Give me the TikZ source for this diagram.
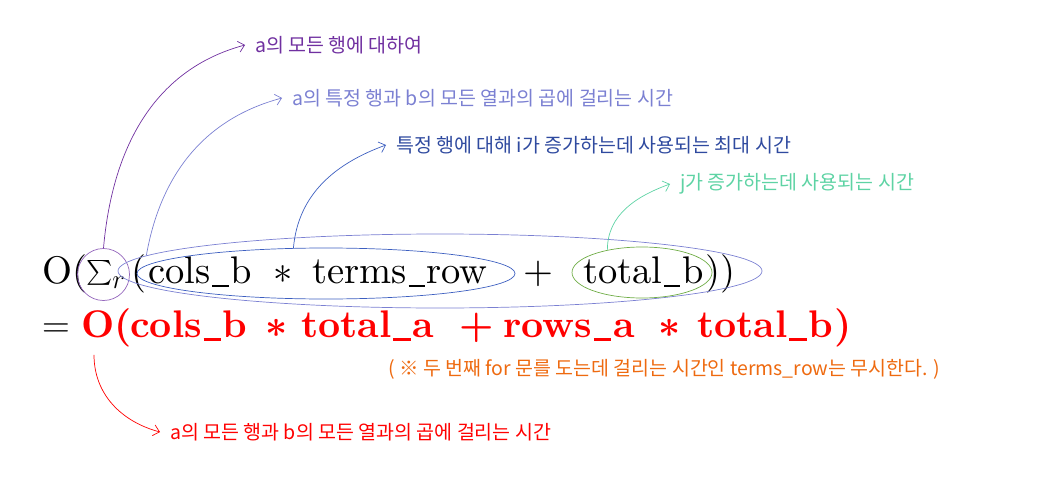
\RequirePackage{fix-cm}
\documentclass[tikz,border=0pt]{standalone}
\usepackage{amsmath}
\usepackage{fontspec}
\usepackage{tikz}
\usepackage{xcolor}
\usetikzlibrary{arrows.meta, shapes.geometric, positioning}
\newfontfamily\krfont{Noto Sans CJK KR}
\newfontfamily\eqfont{lmroman10-regular.otf}[BoldFont=lmroman10-bold.otf]
\newcommand{\usc}{\kern0.05em\rule[-0.1em]{0.42em}{0.045em}\kern0.05em}
\newcommand{\uscb}{\kern0.05em\rule[-0.1em]{0.45em}{0.07em}\kern0.05em}
\definecolor{Plum}{HTML}{7030A0}
\definecolor{RingPurple}{HTML}{9466BC}
\definecolor{Lavender}{HTML}{7B80D2}
\definecolor{RoyalBlue}{HTML}{3D5FC0}
\definecolor{NavyText}{HTML}{2F4A9F}
\definecolor{LeafGreen}{HTML}{70AD47}
\definecolor{Mint}{HTML}{5ED3A4}
\definecolor{Tangerine}{HTML}{EE6A10}
\definecolor{PureRed}{HTML}{FF0000}

\begin{document}
\begin{tikzpicture}[x=1pt, y=1pt,
    eq/.style={anchor=base west, inner sep=0pt, font=\eqfont\fontsize{38.5}{42}\selectfont},
    eqred/.style={eq, text=PureRed, font=\eqfont\fontsize{38.5}{42}\selectfont\bfseries\boldmath},
    ring/.style={draw, ellipse, inner sep=0pt, line width=0.7pt},
    note/.style={anchor=west, inner sep=0pt, inner xsep=10pt, font=\krfont\fontsize{19.5}{22}\selectfont},
    link/.style={-{Straight Barb[length=6pt,width=11pt]}, line width=0.7pt}]
    \useasboundingbox (0,0) rectangle (1048,-481);

    % first line
    \node[eq] (oA) at (42,-283) {O(};
    \node[eq] (sumr) at (86,-283) {$\sum_r$};
    \node[eq] (parB) at (131,-283) {(};
    \node[eq] (colsA) at (148,-283) {cols\usc b};
    \node[eq] (astA) at (273,-283) {$\ast$};
    \node[eq] (terms) at (312,-283) {terms\usc row};
    \node[eq] (plusA) at (523,-283) {+};
    \node[eq] (totbA) at (583,-283) {total\usc b};
    \node[eq] (parC) at ([xshift=1pt]totbA.base east) {))};

    % second line
    \node[eq] (eqsign) at (42,-337) {$=$};
    \node[eqred] (oB) at (81,-337) {O(};
    \node[eqred] (colsB) at (130,-337) {cols\uscb b};
    \node[eqred] (astB) at (265,-337) {$\ast$};
    \node[eqred] (tota) at (301,-337) {total\uscb a};
    \node[eqred] (plusB) at (459,-337) {+};
    \node[eqred] (rowsa) at (503,-337) {rows\uscb a};
    \node[eqred] (astC) at (658,-337) {$\ast$};
    \node[eqred] (totbB) at (697,-337) {total\uscb b};
    \node[eqred] (parE) at ([xshift=1pt]totbB.base east) {)};

    % rings
    \node[ring, draw=RingPurple, minimum width=52pt, minimum height=52pt] (sumring) at (103.5,-274.5) {};
    \node[ring, draw=Lavender, minimum width=644pt, minimum height=74pt] (outerring) at (440,-271) {};
    \node[ring, draw=RoyalBlue, minimum width=378pt, minimum height=51pt] (innerring) at (326,-273.5) {};
    \node[ring, draw=LeafGreen, minimum width=140pt, minimum height=51pt] (totring) at (642,-272.5) {};

    % notes
    \node[note, text=Plum] (rowsnote) at (245,-45) {a의 모든 행에 대하여};
    \node[note, text=Lavender] (rownote) at (282,-98) {a의 특정 행과 b의 모든 열과의 곱에 걸리는 시간};
    \node[note, text=NavyText] (inote) at (386,-145) {특정 행에 대해 i가 증가하는데 사용되는 최대 시간};
    \node[note, text=Mint] (jnote) at (670,-184) {j가 증가하는데 사용되는 시간};
    \node[note, text=Tangerine, inner xsep=0pt] (skipnote) at (388,-369) {( ※ 두 번째 for 문를 도는데 걸리는 시간인 terms\_row는 무시한다. )};
    \node[note, text=PureRed] (allnote) at (160,-432) {a의 모든 행과 b의 모든 열과의 곱에 걸리는 시간};

    % links
    \draw[link, Plum] (sumring.north) to[out=85, in=195] (rowsnote.west);
    \draw[link, Lavender] (outerring.177) to[out=80, in=195] (rownote.west);
    \draw[link, RoyalBlue] (innerring.142) to[out=85, in=200] (inote.west);
    \draw[link, Mint] (totring.147) to[out=90, in=200] (jnote.west);
    \draw[link, PureRed] ([shift={(13pt,-8pt)}]oB.south west) to[out=-90, in=165] (allnote.west);
\end{tikzpicture}
\end{document}
